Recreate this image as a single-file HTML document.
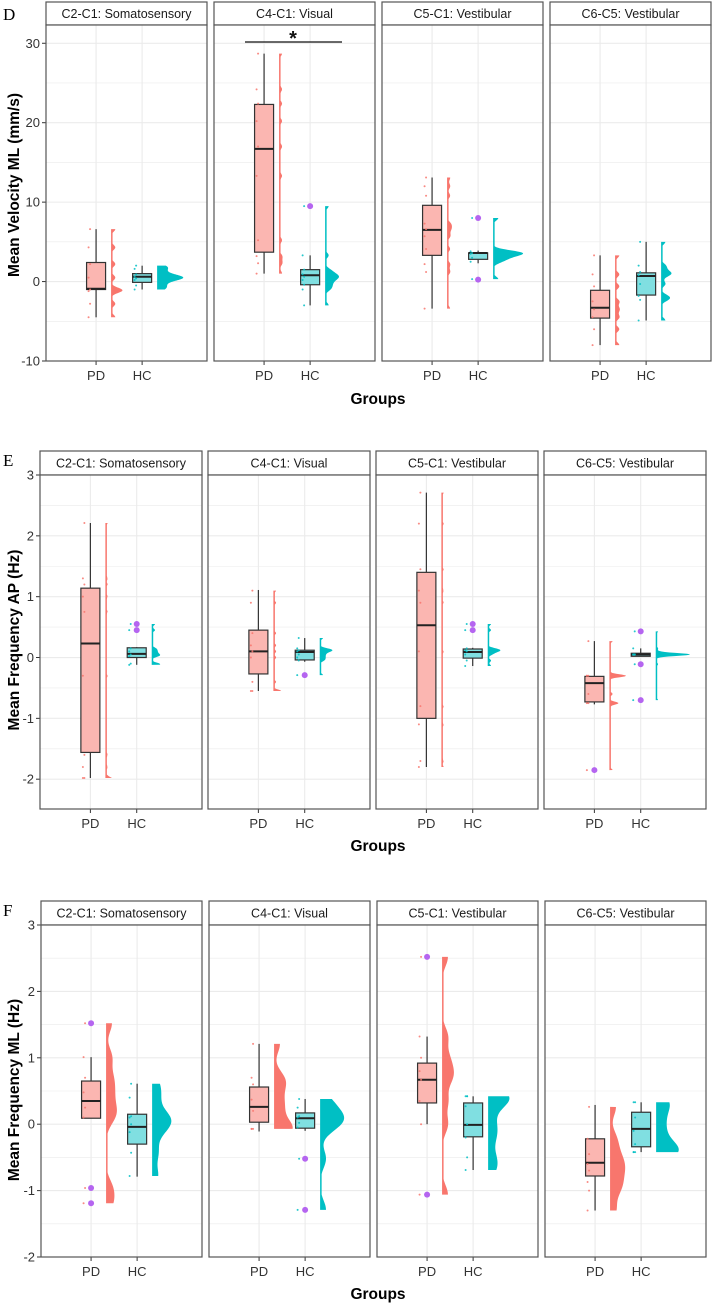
<!DOCTYPE html>
<html><head><meta charset="utf-8"><style>
html,body{margin:0;padding:0;background:#fff;}
svg{display:block;font-family:"Liberation Sans",sans-serif;}
</style></head><body>
<svg id="c" width="713" height="1304" viewBox="0 0 713 1304"></svg>
<script>
// ---------- DATA ----------
const panelTitles = ["C2-C1: Somatosensory","C4-C1: Visual","C5-C1: Vestibular","C6-C5: Vestibular"];
const groupLabels = ["PD","HC"];
const rowLetters = ["D","E","F"];
const rowYTitles = ["Mean Velocity ML (mm/s)","Mean Frequency AP (Hz)","Mean Frequency ML (Hz)"];
const rowTicksD = [-10,0,10,20,30];
const rowTicksE = [-2,-1,0,1,2,3];
const rowTicksF = [-2,-1,0,1,2,3];
const rowDomainD = [-10,32.3];
const rowDomainE = [-2.49,3];
const rowDomainF = [-2,3];
const rowBandwidth = [0.4,0.03,0.14];
// box stats: [lower whisker, q1, median, q3, upper whisker]
const boxD = [
 [[-4.5,-1,-0.9,2.4,6.6],[-1,-0.1,0.6,1.0,2.0]],
 [[1,3.7,16.7,22.3,28.7],[-3,-0.4,0.8,1.5,3.3]],
 [[-3.4,3.3,6.5,9.6,13.1],[2.3,2.8,3.6,3.6,3.9]],
 [[-8,-4.6,-3.3,-1.1,3.3],[-4.9,-1.7,0.7,1.1,5.0]]];
const outD = [[[],[]],[[],[9.5]],[[],[8.0,0.25]],[[],[]]];
const ptsD = [
 [[6.6,4.3,2.2,0.5,-1,-1.2,-2.8,-4.5],[2,1.6,0.9,0.6,0.4,0.2,-0.5,-1]],
 [[28.7,24.2,22.4,20.2,17,13.3,5.2,3.2,2.3,1],[9.5,3.3,1.5,0.9,0.6,0.2,-0.4,-1,-3]],
 [[13.1,12,10.8,7.3,6.6,5.7,4.1,2.2,1.2,-3.4],[8,3.8,3.6,3.5,3.0,2.5,0.3]],
 [[3.3,0.9,-0.6,-2.5,-3.5,-4.5,-6,-8],[5,2,1.2,0.8,-0.3,-1.8,-2.3,-4.9]]];
const boxE = [
 [[-1.98,-1.56,0.23,1.14,2.21],[-0.12,0,0.06,0.16,0.17]],
 [[-0.55,-0.27,0.1,0.45,1.11],[-0.07,-0.04,0.09,0.12,0.32]],
 [[-1.8,-1.0,0.53,1.4,2.71],[-0.14,-0.01,0.09,0.14,0.16]],
 [[-0.77,-0.73,-0.42,-0.31,0.27],[0.02,0.02,0.05,0.07,0.15]]];
const outE = [[[],[0.55,0.45]],[[],[-0.29]],[[],[0.55,0.45]],[[-1.85],[0.43,-0.11,-0.7]]];
const ptsE = [
 [[2.21,1.3,1.2,1.0,0.75,-0.3,-1.6,-1.8,-1.98,-1.98],[0.55,0.45,0.15,0.1,0.05,0.02,-0.1,-0.12]],
 [[1.1,0.9,0.4,0.2,0.1,0.0,-0.4,-0.55,-0.55],[0.32,0.15,0.12,0.1,0.05,0.0,-0.05,-0.29]],
 [[2.71,2.2,1.45,1.1,0.9,0.1,-0.8,-1.1,-1.7,-1.8],[0.55,0.45,0.15,0.12,0.1,0.05,-0.05,-0.14]],
 [[0.27,-0.3,-0.3,-0.3,-0.6,-0.75,-0.75,-1.85],[0.43,0.15,0.05,0.05,0.05,0.05,0.05,0.05,-0.11,-0.7]]];
const boxF = [
 [[0.09,0.09,0.35,0.65,1.01],[-0.79,-0.3,-0.04,0.15,0.61]],
 [[-0.11,0.03,0.26,0.56,1.21],[-0.1,-0.06,0.09,0.17,0.38]],
 [[0,0.32,0.67,0.92,1.32],[-0.69,-0.19,-0.01,0.32,0.42]],
 [[-1.3,-0.78,-0.58,-0.22,0.29],[-0.42,-0.34,-0.07,0.18,0.33]]];
const outF = [[[1.52,-0.96,-1.19],[]],[[],[-0.52,-1.29]],[[2.52,-1.06],[]],[[],[]]];
const ptsF = [
 [[1.52,1.01,0.7,0.48,0.25,0.1,-0.96,-1.19],[0.61,0.4,0.12,0.1,0,-0.12,-0.43,-0.78]],
 [[1.21,0.7,0.6,0.37,0.2,-0.07,-0.07,-0.07],[0.38,0.25,0.12,0.1,0.02,-0.05,-0.52,-1.29]],
 [[2.52,1.32,1.0,0.8,0.67,0.35,0.0,-1.06],[0.42,0.42,0.42,0.27,0.0,-0.2,-0.5,-0.69]],
 [[0.26,-0.22,-0.45,-0.6,-0.7,-0.87,-1.0,-1.3],[0.33,0.33,0.1,-0.1,-0.3,-0.42,-0.42,-0.42]]];

// ---------- LAYOUT ----------
const rows = [
 {x0:[46,214,382,550],w:161,stripTop:2,stripH:23,bottom:361,ticks:rowTicksD,dom:rowDomainD,box:boxD,out:outD,pts:ptsD,tickY:380,groupsY:404,letterY:20,titleY:185,pow:1.5,vmax:30},
 {x0:[40,208,376,544],w:162,stripTop:451,stripH:24,bottom:809,ticks:rowTicksE,dom:rowDomainE,box:boxE,out:outE,pts:ptsE,tickY:828,groupsY:851,letterY:466,titleY:640,pow:1.5,vmax:34},
 {x0:[41,209,377,545],w:161,stripTop:901,stripH:24,bottom:1257,ticks:rowTicksF,dom:rowDomainF,box:boxF,out:outF,pts:ptsF,tickY:1276,groupsY:1299,letterY:916,titleY:1090,pow:1,vmax:24}];
const fills = ["#F8766D","#00BFC4"], boxFills=["#fbb6b1","#80dfe1"];
const NS="http://www.w3.org/2000/svg";
const svg=document.getElementById('c');
function mk(tag,attrs,parent,name){const e=document.createElementNS(NS,tag);for(const k in attrs)e.setAttribute(k,attrs[k]);
 
 
 (parent||svg).appendChild(e);return e;}

function kde(pts,bw,v){let s=0;for(const p of pts){const z=(v-p)/bw;s+=Math.exp(-0.5*z*z);}return s/(pts.length*bw*Math.sqrt(2*Math.PI));}

rows.forEach((R,ri)=>{
 const g=mk('g',{},svg,'row-'+rowLetters[ri]);
 const top=R.stripTop+R.stripH;
 const y=v=>R.bottom-(v-R.dom[0])/(R.dom[1]-R.dom[0])*(R.bottom-top);
 const L=mk('text',{x:3,y:R.letterY,'font-family':'Liberation Serif,serif','font-size':17,fill:'#000'},g,'panel-letter');L.textContent=rowLetters[ri];
 const yt=mk('text',{x:0,y:0,transform:`translate(19,${R.titleY}) rotate(-90)`,'text-anchor':'middle','font-size':15.5,'font-weight':'bold',fill:'#000'},g,'y-axis-title');yt.textContent=rowYTitles[ri];
 R.ticks.forEach(t=>{const yy=y(t);
  mk('line',{x1:R.x0[0]-4,x2:R.x0[0],y1:yy,y2:yy,stroke:'#333','stroke-width':1},g,'y-tick');
  const tl=mk('text',{x:R.x0[0]-6,y:yy+4.5,'text-anchor':'end','font-size':13,fill:'#333'},g,'y-tick-label');tl.textContent=t;});
 const bw=rowBandwidth[ri];let maxd=0;
 const dens=R.pts.map(pp=>pp.map(arr=>{const lo=Math.min(...arr),hi=Math.max(...arr);const vals=[];const N=150;
   for(let i=0;i<=N;i++){const v=lo+(hi-lo)*i/N;const d=kde(arr,bw,v);vals.push([v,d]);if(d>maxd)maxd=d;}return vals;}));
 const gx=mk('text',{x:378,y:R.groupsY,'text-anchor':'middle','font-size':15.5,'font-weight':'bold',fill:'#000'},g,'x-axis-title');gx.textContent='Groups';
 R.x0.forEach((x0,pi)=>{
  const pg=mk('g',{},g,'panel-'+(pi+1));
  mk('rect',{x:x0,y:R.stripTop,width:R.w,height:R.stripH,fill:'#fff',stroke:'#555','stroke-width':1.2},pg,'strip');
  const st=mk('text',{x:x0+R.w/2,y:R.stripTop+R.stripH/2+4.5,'text-anchor':'middle','font-size':12.5,fill:'#1a1a1a'},pg,'strip-title');st.textContent=panelTitles[pi];
  mk('rect',{x:x0,y:top,width:R.w,height:R.bottom-top,fill:'#fff'},pg,'panel-bg');
  const step=R.ticks[1]-R.ticks[0];
  for(let v=R.ticks[0]-step;v<=R.ticks[R.ticks.length-1]+step;v+=step/2){const yy=y(v);if(yy<top||yy>R.bottom)continue;
   mk('line',{x1:x0,x2:x0+R.w,y1:yy,y2:yy,stroke:'#ebebeb','stroke-width':Math.abs(v/step-Math.round(v/step))<1e-6?1.1:0.6},pg,'grid-line');}
  const xs=[x0+R.w*0.311,x0+R.w*0.597];
  xs.forEach((xx,gi)=>{mk('line',{x1:xx,x2:xx,y1:top,y2:R.bottom,stroke:'#ebebeb','stroke-width':1.1},pg,'grid-line-x');
   mk('line',{x1:xx,x2:xx,y1:R.bottom,y2:R.bottom+4,stroke:'#333'},pg,'x-tick');
   const tl=mk('text',{x:xx,y:R.tickY,'text-anchor':'middle','font-size':13,fill:'#333'},pg,'x-tick-label');tl.textContent=groupLabels[gi];});
  [0,1].forEach(gi=>{
   const xx=xs[gi];const b=R.box[pi][gi];
   const dv=dens[pi][gi];const vx=xx+15;
   let d=`M${vx},${y(dv[0][0])}`;dv.forEach(([v,dd])=>{d+=`L${(vx+Math.max(1.5,Math.pow(dd/maxd,R.pow)*R.vmax)).toFixed(2)},${y(v).toFixed(2)}`;});
   d+=`L${vx},${y(dv[dv.length-1][0])}Z`;
   mk('path',{d:d,fill:fills[gi],stroke:'none'},pg,'violin-'+groupLabels[gi]);
   mk('line',{x1:xx,x2:xx,y1:y(b[0]),y2:y(b[4]),stroke:'#333','stroke-width':1.2},pg,'whisker');
   mk('rect',{x:xx-9.5,y:y(b[3]),width:19,height:Math.max(1,y(b[1])-y(b[3])),fill:boxFills[gi],stroke:'#333','stroke-width':1.2},pg,'box-'+groupLabels[gi]);
   mk('line',{x1:xx-9.5,x2:xx+9.5,y1:y(b[2]),y2:y(b[2]),stroke:'#222','stroke-width':2},pg,'median');
   R.out[pi][gi].forEach(o=>mk('circle',{cx:xx,cy:y(o),r:3,fill:'#b565f0'},pg,'outlier'));
   R.pts[pi][gi].forEach((p,k)=>mk('circle',{cx:xx-6-(k%2)*1.5,cy:y(p),r:1,fill:fills[gi],opacity:0.85},pg,'jitter-point'));
  });
  mk('rect',{x:x0,y:top,width:R.w,height:R.bottom-top,fill:'none',stroke:'#555','stroke-width':1.2},pg,'panel-border');
  if(ri==0&&pi==1){mk('line',{x1:x0+31,x2:x0+128,y1:42,y2:42,stroke:'#111','stroke-width':1.2},pg,'significance-bar');
   const a=mk('text',{x:x0+79,y:45,'text-anchor':'middle','font-size':20,'font-weight':'bold',fill:'#111'},pg,'significance-star');a.textContent='*';}
 });
});
</script>
</body></html>
